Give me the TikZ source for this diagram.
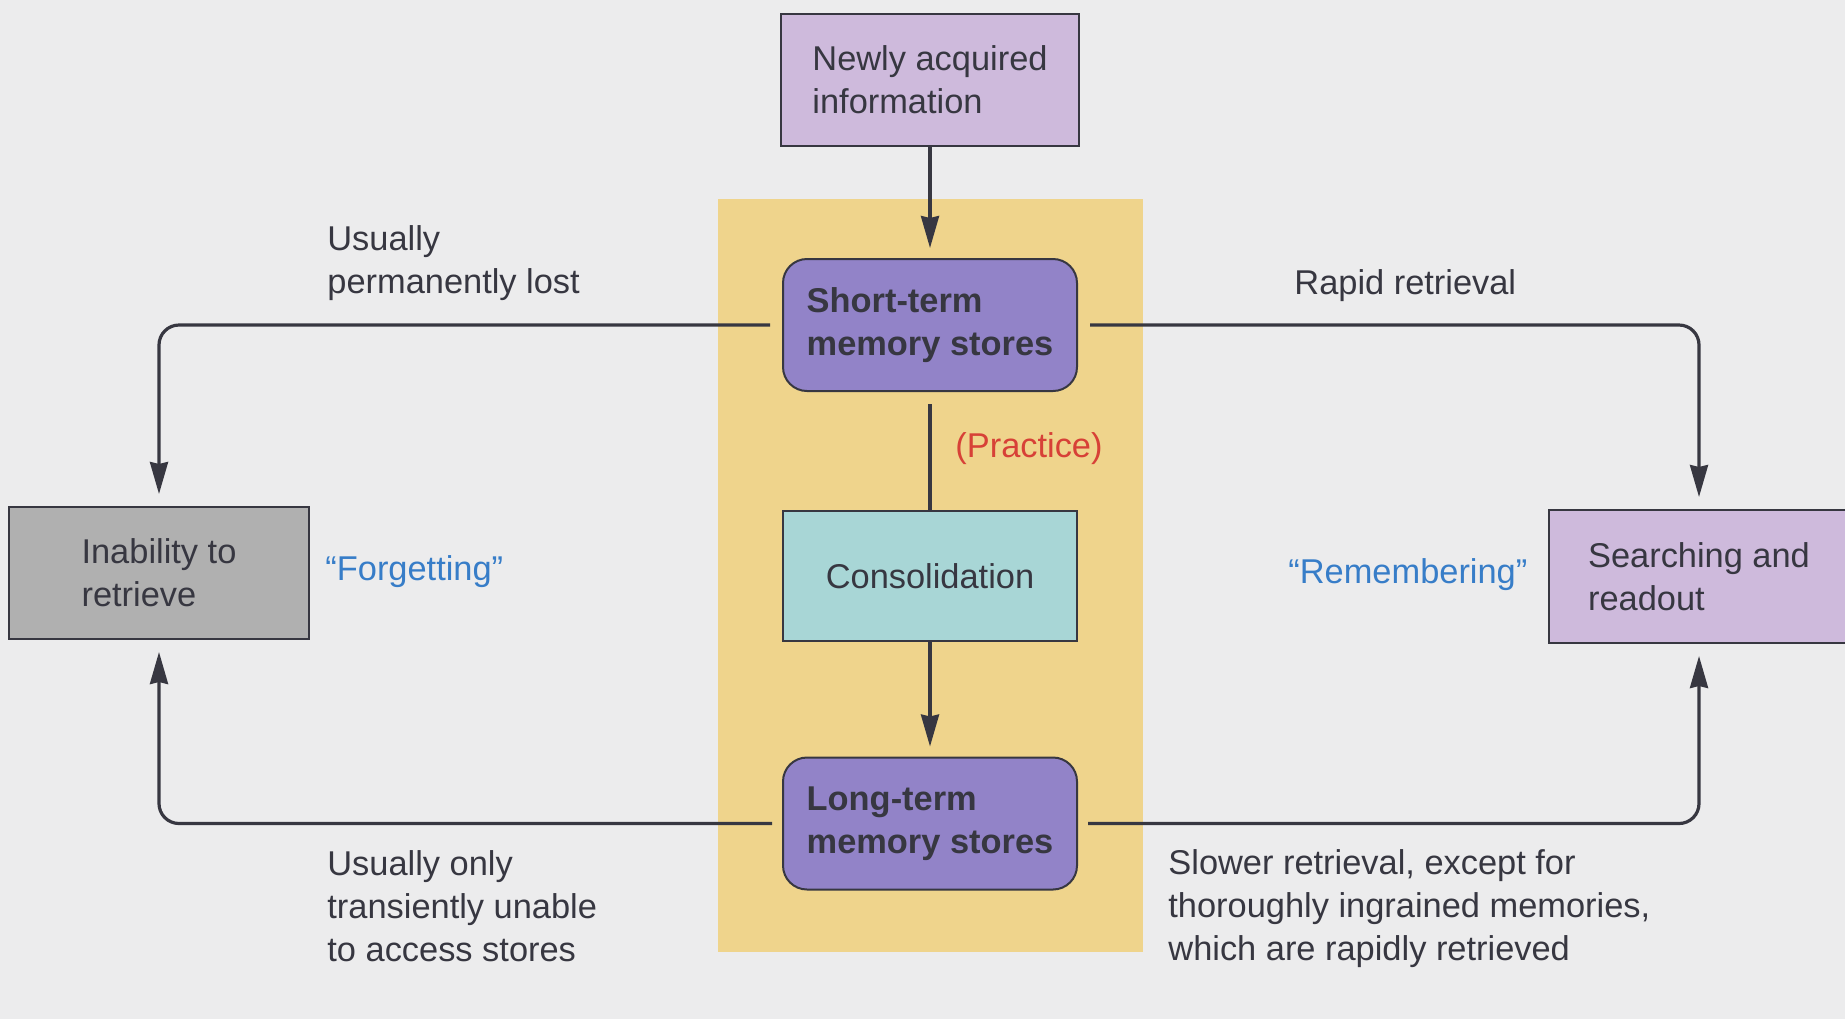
\documentclass[tikz,border=0pt]{standalone}
\usepackage{fontspec}
\setmainfont{Liberation Sans}
\usetikzlibrary{arrows.meta}
\definecolor{pagebg}{RGB}{236,236,237}
\definecolor{bandyellow}{RGB}{239,212,140}
\definecolor{lilac}{RGB}{206,186,220}
\definecolor{stores}{RGB}{146,131,200}
\definecolor{consol}{RGB}{168,214,214}
\definecolor{greybox}{RGB}{176,176,176}
\definecolor{inkgrey}{RGB}{55,55,65}
\definecolor{quoteblue}{RGB}{55,125,200}
\definecolor{practred}{RGB}{215,65,55}
\begin{document}
\begin{tikzpicture}[x=0.5pt, y=-0.5pt, every node/.style={font=\fontsize{17.2}{21.5}\selectfont, text=inkgrey}]
        \tikzstyle{plainbox} = [draw=inkgrey, line width=1pt, align=left, minimum width=149pt, minimum height=66pt, inner sep=0pt]
        \tikzstyle{storebox} = [plainbox, fill=stores, rounded corners=12pt, minimum width=147pt, font=\fontsize{17.2}{21.5}\selectfont\bfseries]
        \tikzstyle{lbl} = [anchor=west, align=left, inner sep=0pt]
        \tikzstyle{flow} = [->, >={Stealth[length=16pt, width=9pt, inset=1pt]}, line width=1.6pt, draw=inkgrey]
        \useasboundingbox (0,0) rectangle (1845,1019);
        \fill[pagebg] (0,0) rectangle (1845,1019);
        \fill[bandyellow] (718,199) rectangle (1143,952);
        \node[plainbox, fill=lilac] (new) at (930,80) {Newly acquired\\information};
        \node[storebox] (stm) at (930,325) {Short-term\\memory stores};
        \node[plainbox, fill=consol, minimum width=147pt, minimum height=65pt] (cons) at (930,576) {Consolidation};
        \node[storebox] (ltm) at (930,823.5) {Long-term\\memory stores};
        \node[plainbox, fill=greybox, minimum width=150pt] (inab) at (159,573) {Inability to\\retrieve};
        \node[plainbox, fill=lilac, minimum width=150pt, minimum height=66.5pt] (srch) at (1699,576.5) {Searching and\\readout};
        \node[lbl] (lost) at (327,263) {Usually\\permanently lost};
        \node[lbl] (rapid) at (1294,286) {Rapid retrieval};
        \node[lbl, text=practred] (prac) at (955,449) {(Practice)};
        \node[lbl, text=quoteblue] (forg) at (325,572) {“Forgetting”};
        \node[lbl, text=quoteblue] (rem) at (1288,575) {“Remembering”};
        \node[lbl] (trans) at (327,906) {Usually only\\transiently unable\\to access stores};
        \node[lbl] (slow) at (1168,909) {Slower retrieval, except for\\thoroughly ingrained memories,\\which are rapidly retrieved};
        \draw[flow, shorten >=5pt] (new) -- (stm);
        \draw[flow, -, shorten <=6pt] (stm) -- (cons);
        \draw[flow, shorten >=5pt] (cons) -- (ltm);
        \draw[flow, rounded corners=10pt, shorten <=6pt, shorten >=6pt] (stm.west) -| (inab.north);
        \draw[flow, rounded corners=10pt, shorten <=6pt, shorten >=6pt] (stm.east) -| (srch.north);
        \draw[flow, rounded corners=10pt, shorten <=5pt, shorten >=6pt] (ltm.west) -| (inab.south);
        \draw[flow, rounded corners=10pt, shorten <=5pt, shorten >=6pt] (ltm.east) -| (srch.south);
      \end{tikzpicture}
\end{document}
